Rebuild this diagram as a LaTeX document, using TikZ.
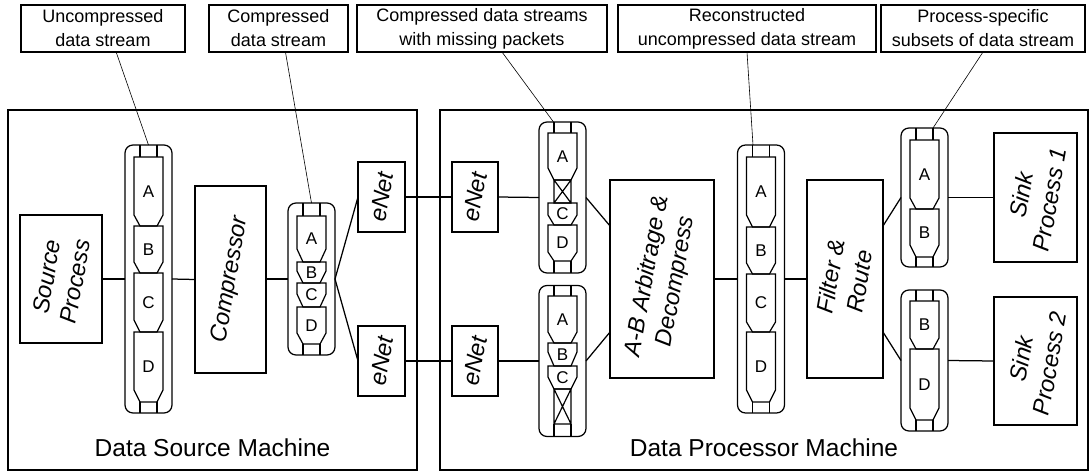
\documentclass[tikz,border=0pt]{standalone}
\usepackage{fontspec}
\setmainfont{Liberation Sans}
\usetikzlibrary{calc}
\tikzset{
  ln/.style={line width=1.25pt},
  box/.style={draw, line width=1.25pt, inner sep=0pt, outer sep=0pt},
  lbl/.style={box, align=center, font=\fontsize{18}{24}\selectfont},
  ptxt/.style={align=center, inner sep=0pt, rotate=80, font=\fontsize{23.5}{29}\selectfont\itshape},
  capsule/.style={draw, line width=1.25pt, rounded corners=8pt, minimum width=47pt, inner sep=0pt, outer sep=0pt},
  lead/.style={line width=0.6pt},
  pk/.style={line width=1.2pt},
  letter/.style={inner sep=0pt, font=\fontsize{17}{18}\selectfont},
  mach/.style={draw, line width=1.25pt},
  machtxt/.style={inner sep=0pt, font=\fontsize{24.5}{28}\selectfont}
}
% packet: cx, top, chamfer start, chamfer end, letter, name
\newcommand\pkt[6]{%
  \draw[pk] ({#1-14.5},#2) -- ({#1+14.5},#2) -- ({#1+14.5},#3) -- ({#1+8.5},#4) -- ({#1-8.5},#4) -- ({#1-14.5},#3) -- cycle;
  \node[letter] (#6) at (#1,{(#2+#4)/2}) {#5};}
\newcommand\pipeln[3]{\draw[pk] ({#1-8.5},#2) -- ({#1-8.5},#3) ({#1+8.5},#2) -- ({#1+8.5},#3);}
\newcommand\xbx[3]{\draw[pk] ({#1-8.5},#2) rectangle ({#1+8.5},#3) ({#1-8.5},#2) -- ({#1+8.5},#3) ({#1+8.5},#2) -- ({#1-8.5},#3);}
\begin{document}
\begin{tikzpicture}[x=1pt,y=-1pt]
\useasboundingbox (0,0) rectangle (1090,471);
% machines
\draw[mach] (8,110) rectangle (417,470);
\draw[mach] (440,110) rectangle (1088,470);
\node[machtxt] (m1) at (212.5,448) {Data Source Machine};
\node[machtxt] (m2) at (764,448) {Data Processor Machine};
% labels
\node[lbl, minimum width=164pt, minimum height=47pt] (lab1) at (103,28.5) {Uncompressed\\data stream};
\node[lbl, minimum width=139pt, minimum height=47pt] (lab2) at (278.5,28.5) {Compressed\\data stream};
\node[lbl, minimum width=250pt, minimum height=47pt] (lab3) at (482,28.5) {Compressed data streams\\with missing packets};
\node[lbl, minimum width=258pt, minimum height=47pt] (lab4) at (747,28.5) {Reconstructed\\uncompressed data stream};
\node[lbl, minimum width=204pt, minimum height=47pt] (lab5) at (983,28.5) {Process-specific\\subsets of data stream};
% process boxes
\node[box, minimum width=82pt, minimum height=128pt] (src) at (61,279) {};
\node[ptxt] (srcT) at (src) {Source\\Process};
\node[box, minimum width=71pt, minimum height=187pt] (comp) at (230.5,279.5) {};
\node[ptxt] (compT) at (comp) {Compressor};
\node[box, minimum width=47pt, minimum height=70pt] (eL1) at (381.5,197) {};
\node[ptxt] (eL1T) at (eL1) {eNet};
\node[box, minimum width=47pt, minimum height=70pt] (eL2) at (381.5,361) {};
\node[ptxt] (eL2T) at (eL2) {eNet};
\node[box, minimum width=46pt, minimum height=70pt] (eR1) at (475,197) {};
\node[ptxt] (eR1T) at (eR1) {eNet};
\node[box, minimum width=46pt, minimum height=70pt] (eR2) at (475,361) {};
\node[ptxt] (eR2T) at (eR2) {eNet};
\node[box, minimum width=104pt, minimum height=198pt] (arb) at (662,279) {};
\node[ptxt] (arbT) at (arb) {A-B Arbitrage \&\\Decompress};
\node[box, minimum width=76pt, minimum height=198pt] (filt) at (845,279) {};
\node[ptxt] (filtT) at (filt) {Filter \&\\Route};
\node[box, minimum width=83pt, minimum height=129pt] (sink1) at (1035.5,197.5) {};
\node[ptxt] (sink1T) at (sink1) {Sink\\Process 1};
\node[box, minimum width=83pt, minimum height=128pt] (sink2) at (1035.5,361) {};
\node[ptxt] (sink2T) at (sink2) {Sink\\Process 2};
% capsules
\node[capsule, minimum height=268pt] (S1) at (148.5,279) {};
\node[capsule, minimum height=152pt] (S2) at (311.5,279) {};
\node[capsule, minimum height=151pt] (S3a) at (562.5,197.5) {};
\node[capsule, minimum height=151pt] (S3b) at (562.5,361) {};
\node[capsule, minimum height=268pt] (S4) at (761,279) {};
\node[capsule, minimum height=139pt] (S5a) at (924.5,197.5) {};
\node[capsule, minimum height=141pt] (S5b) at (924.5,360.5) {};
% stream 1
\pipeln{148.5}{145}{157}
\pkt{148.5}{157}{215}{226}{A}{s1a}
\pkt{148.5}{226}{262}{273}{B}{s1b}
\pkt{148.5}{273}{320}{332}{C}{s1c}
\pkt{148.5}{332}{390}{402}{D}{s1d}
\pipeln{148.5}{402}{413}
% stream 2
\pipeln{311.5}{203}{216}
\pkt{311.5}{216}{249}{262}{A}{s2a}
\pkt{311.5}{262}{271}{283}{B}{s2b}
\pkt{311.5}{283}{294}{307}{C}{s2c}
\pkt{311.5}{307}{333}{344}{D}{s2d}
\pipeln{311.5}{344}{355}
% stream 3a
\pipeln{562.5}{122}{133}
\pkt{562.5}{133}{168}{180}{A}{s3aa}
\xbx{562.5}{180}{203}
\pkt{562.5}{203}{215}{225}{C}{s3ac}
\pkt{562.5}{225}{252}{261}{D}{s3ad}
\pipeln{562.5}{261}{273}
% stream 3b
\pipeln{562.5}{285}{296}
\pkt{562.5}{296}{332}{343}{A}{s3ba}
\pkt{562.5}{343}{352}{366}{B}{s3bb}
\pkt{562.5}{366}{377}{389}{C}{s3bc}
\xbx{562.5}{389}{424}
\pipeln{562.5}{424}{436.5}
% stream 4
\pipeln{761}{145}{157}
\pkt{761}{157}{215}{227}{A}{s4a}
\pkt{761}{227}{263}{274}{B}{s4b}
\pkt{761}{274}{322}{332}{C}{s4c}
\pkt{761}{332}{390}{402}{D}{s4d}
\pipeln{761}{402}{413}
% stream 5a
\pipeln{924.5}{128}{140}
\pkt{924.5}{140}{198}{209}{A}{s5aa}
\pkt{924.5}{209}{245}{257}{B}{s5ab}
\pipeln{924.5}{257}{267}
% stream 5b
\pipeln{924.5}{290}{301}
\pkt{924.5}{301}{338}{349}{B}{s5bb}
\pkt{924.5}{349}{408}{420}{D}{s5bd}
\pipeln{924.5}{420}{431}
% connectors
\draw[ln] (src.east) -- (S1.west);
\draw[ln] (S1.east) -- (comp.west);
\draw[ln] (comp.east |- S2.west) -- (S2.west);
\draw[ln] (S2.east) -- (eL1.west);
\draw[ln] (S2.east) -- (eL2.west);
\draw[ln] (eL1.east) -- (eR1.west);
\draw[ln] (eL2.east) -- (eR2.west);
\draw[ln] (eR1.east) -- (S3a.west);
\draw[ln] (eR2.east) -- (S3b.west);
\draw[ln] (S3a.east) -- ($(arb.north west)!0.232!(arb.south west)$);
\draw[ln] (S3b.east) -- ($(arb.north west)!0.768!(arb.south west)$);
\draw[ln] (arb.east) -- (S4.west);
\draw[ln] (S4.east) -- (filt.west);
\draw[ln] ($(filt.north east)!0.232!(filt.south east)$) -- (S5a.west);
\draw[ln] ($(filt.north east)!0.768!(filt.south east)$) -- (S5b.west);
\draw[ln] (S5a.east) -- (sink1.west);
\draw[ln] (S5b.east) -- (sink2.west);
% leaders
\draw[lead] ($(lab1.south west)!0.58!(lab1.south east)$) -- (S1.north);
\draw[lead] ($(lab2.south west)!0.55!(lab2.south east)$) -- (S2.north);
\draw[lead] ($(lab3.south west)!0.58!(lab3.south east)$) -- ($(S3a.north)+(-9,0)$);
\draw[lead] (lab4.south) -- ($(S4.north)+(-8,0)$);
\draw[lead] (lab5.south) -- ($(S5a.north)+(8.5,0)$);
\end{tikzpicture}
\end{document}
